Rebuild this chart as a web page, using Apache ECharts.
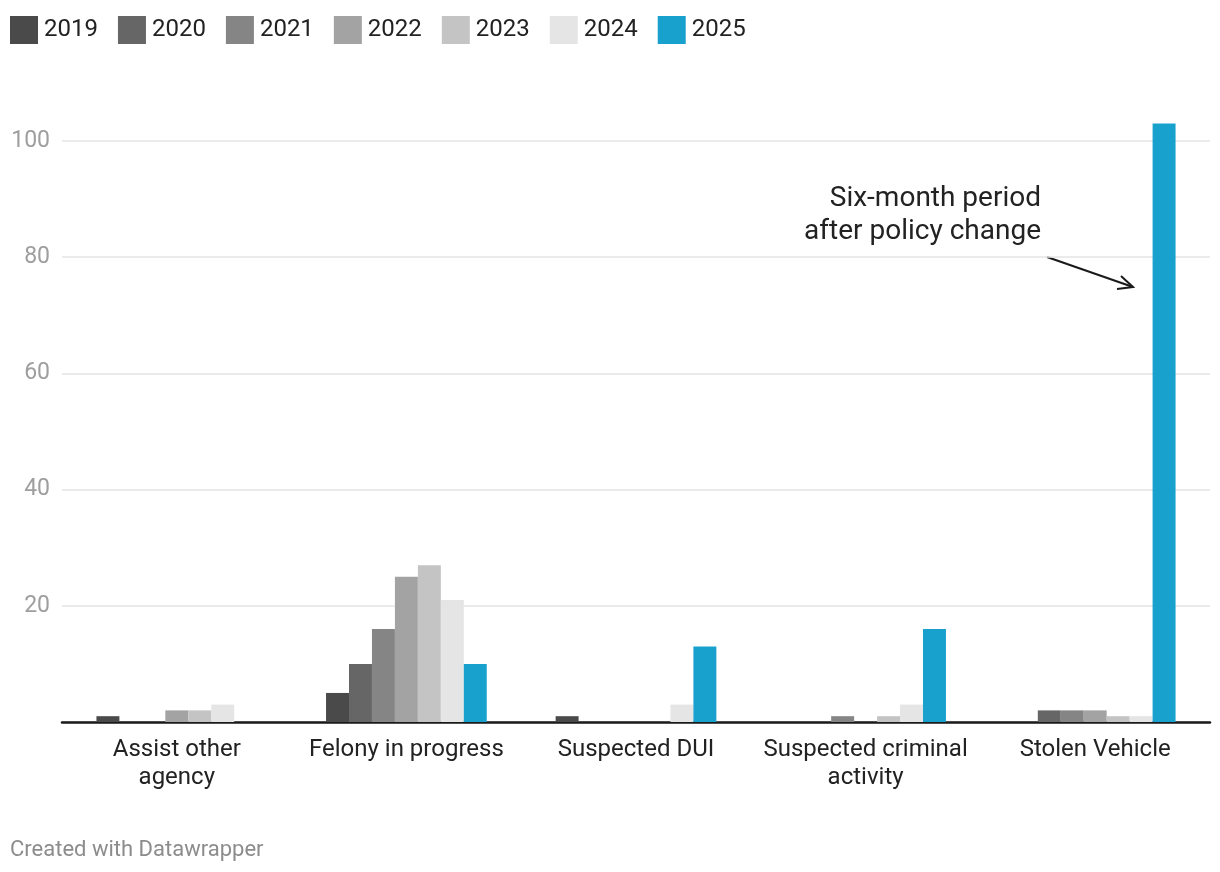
<!DOCTYPE html>
<html><head><meta charset="utf-8">
<script src="https://cdn.jsdelivr.net/npm/echarts@6/dist/echarts.min.js"></script>
<style>html,body{margin:0;padding:0;background:#fff}#c{width:1220px;height:872px}</style>
</head><body><div id="c"></div>
<script>
const categories = ["Assist other agency","Felony in progress","Suspected DUI","Suspected criminal activity","Stolen Vehicle"];
const years = ["2019","2020","2021","2022","2023","2024","2025"];
const colors = ["#4a4a4a","#666666","#858585","#a3a3a3","#c4c4c4","#e5e5e5","#18a1cd"];
const v2019 = [1,5,1,0,0];
const v2020 = [0,10,0,0,2];
const v2021 = [0,16,0,1,2];
const v2022 = [2,25,0,0,2];
const v2023 = [2,27,0,1,1];
const v2024 = [3,21,3,3,1];
const v2025 = [0,10,13,16,103];
const yTicks = [20,40,60,80,100];
const seriesValues = [v2019,v2020,v2021,v2022,v2023,v2024,v2025];

const FONT = 'Roboto';
const chart = echarts.init(document.getElementById('c'));
chart.setOption({
  animation:false,
  textStyle:{fontFamily:FONT},
  color:colors,
  legend:{
    left:5, top:11, itemWidth:28, itemHeight:28, itemGap:20, icon:'rect',
    data:years,
    textStyle:{fontFamily:FONT,fontSize:24,color:'#222',padding:[0,0,0,1]}
  },
  grid:{left:62,right:10,top:141,bottom:150,containLabel:false},
  xAxis:{
    type:'category', data:categories,
    axisLine:{lineStyle:{color:'#1a1a1a',width:2.5}},
    axisTick:{show:false},
    axisLabel:{
      fontFamily:FONT,fontSize:24,color:'#222',margin:14,lineHeight:28,interval:0,
      formatter:function(s){ if(s.length>=19){const i=s.lastIndexOf(' ');return s.slice(0,i)+'\n'+s.slice(i+1);} return s; }
    }
  },
  yAxis:{
    type:'value', min:0, max:100, interval:20,
    axisLine:{show:false}, axisTick:{show:false},
    splitLine:{lineStyle:{color:'#e5e5e5',width:1.5}},
    axisLabel:{fontFamily:FONT,fontSize:23,color:'#9e9e9e',margin:12,
      formatter:function(v){return yTicks.indexOf(v)>=0?String(v):'';}}
  },
  series: years.map((y,i)=>({
    name:y, type:'bar', data:seriesValues[i], clip:false,
    barGap:'0%', barCategoryGap:'30%',
    itemStyle:{color:colors[i]}
  })),
  graphic:[
    {type:'text',x:1041,y:182,style:{text:'Six-month period\nafter policy change',fontFamily:FONT,fontSize:28,fill:'#222',align:'right',verticalAlign:'top',lineHeight:33}},
    {type:'line',shape:{x1:1047,y1:257,x2:1133,y2:287},style:{stroke:'#1a1a1a',lineWidth:2}},
    {type:'polyline',shape:{points:[[1121,276],[1133,287],[1117,289]]},style:{stroke:'#1a1a1a',lineWidth:2,fill:null}},
    {type:'text',left:10,top:839,style:{text:'Created with Datawrapper',fontFamily:FONT,fontSize:22,fill:'#8c8c8c'}}
  ]
});
</script></body></html>
